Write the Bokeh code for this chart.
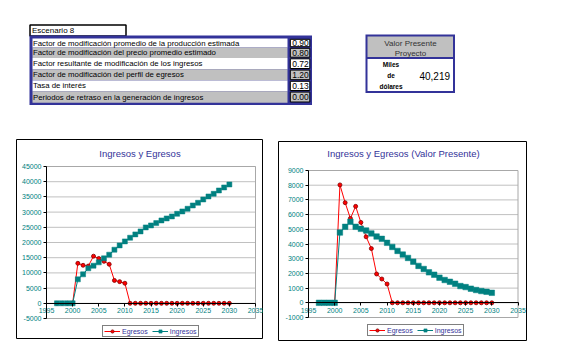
from bokeh.plotting import figure
from bokeh.models import Range1d, FixedTicker, Legend, LegendItem, Label, Spacer
from bokeh.layouts import row, column
from bokeh.embed import file_html
from bokeh.resources import INLINE
from bokeh.core.properties import value

# ---------------- data ----------------
years = [1997, 1998, 1999, 2000, 2001, 2002, 2003, 2004, 2005, 2006, 2007, 2008,
         2009, 2010, 2011, 2012, 2013, 2014, 2015, 2016, 2017, 2018, 2019, 2020,
         2021, 2022, 2023, 2024, 2025, 2026, 2027, 2028, 2029, 2030]

ingresos = [0, 0, 0, 0, 7880, 9530, 11500, 12370, 13470, 14780, 15990, 17630,
            19050, 20370, 21570, 22670, 23650, 24970, 25620, 26390, 27260, 27920,
            28580, 29450, 30220, 31100, 32190, 33070, 34160, 35150, 36020, 37120,
            38110, 39090]
egresos = [0, 0, 0, 0, 13150, 12500, 12250, 15500, 14750, 13800, 12850, 7520,
           7120, 6600, 0, 0, 0, 0, 0, 0, 0, 0, 0, 0, 0, 0, 0, 0, 0, 0, 0, 0, 0, 0]

ingresos_vp = [0, 0, 0, 0, 4780, 5170, 5510, 5170, 5030, 4920, 4720, 4510,
               4350, 4080, 3800, 3530, 3280, 3050, 2800, 2510, 2300, 2070, 1910,
               1710, 1550, 1430, 1300, 1140, 1070, 960, 870, 800, 750, 680]
egresos_vp = [0, 0, 0, 0, 8020, 6810, 5740, 6560, 5470, 4490, 3690, 1960,
              1620, 1280, 0, 0, 0, 0, 0, 0, 0, 0, 0, 0, 0, 0, 0, 0, 0, 0, 0, 0, 0, 0]

x_ticks = [1995, 2000, 2005, 2010, 2015, 2020, 2025, 2030, 2035]
x_tick_labels = ["1995", "2000", "2005", "2010", "2015", "2020", "2025", "2030", "2035"]
y_ticks_nom = [-5000, 0, 5000, 10000, 15000, 20000, 25000, 30000, 35000, 40000, 45000]
y_labels_nom = ["-5000", "0", "5000", "10000", "15000", "20000", "25000", "30000",
                "35000", "40000", "45000"]
y_ticks_vp = [-1000, 0, 1000, 2000, 3000, 4000, 5000, 6000, 7000, 8000, 9000]
y_labels_vp = ["-1000", "0", "1000", "2000", "3000", "4000", "5000", "6000", "7000",
               "8000", "9000"]

series_names = ["Egresos", "Ingresos"]
chart_titles = ["Ingresos y Egresos", "Ingresos y Egresos (Valor Presente)"]

scenario_label = "Escenario 8"
table_labels = [
    "Factor de modificación promedio de la producción estimada",
    "Factor de modificación del precio promedio estimado",
    "Factor resultante de modificación de los ingresos",
    "Factor de modificación del perfil de egresos",
    "Tasa de interés",
    "Periodos de retraso en la generación de ingresos",
]
table_values = ["0.90", "0.80", "0.72", "1.20", "0.13", "0.00"]
vp_header = ["Valor Presente", "Proyecto"]
vp_units = ["Miles", "de", "dólares"]
vp_value = ["40,219"]

# ---------------- styles ----------------
FONT = "Liberation Sans"
NAVY = "#333399"
TEAL = "#008080"
RED = "#ff0000"
GRAY = "#c0c0c0"

# ---------------- top (tables) ----------------
top = figure(width=546, height=139, x_range=Range1d(0, 546), y_range=Range1d(139, 0),
             output_backend="svg", toolbar_location=None, min_border=0, title=None,
             x_axis_location=None, y_axis_location=None, outline_line_color=None)
top.grid.visible = False

# Escenario box
top.quad(left=[29.5], right=[125.5], top=[24.5], bottom=[35.5],
         fill_color="white", line_color="black", line_width=1.5)
top.text(x=[31.5], y=[30], text=[scenario_label], text_font=value(FONT),
         text_font_size="8px", text_align="left", text_baseline="middle", text_color="black")

# parameter table
row_b = [38, 47, 57.5, 68.8, 80, 90.8, 102.3]
top.quad(left=[29], right=[311.5], top=[35], bottom=[104.5], fill_color=NAVY, line_color=None)
fills = ["white", GRAY, "white", GRAY, "white", GRAY]
top.quad(left=[32] * 6, right=[287] * 6, top=row_b[:-1], bottom=row_b[1:],
         fill_color=fills, line_color=None)
top.quad(left=[289.8] * 6, right=[309.3] * 6, top=[b + 0.8 for b in row_b[:-1]],
         bottom=[b - 0.8 for b in row_b[1:]], fill_color=fills, line_color="black", line_width=1)
mids = [(row_b[i] + row_b[i + 1]) / 2 for i in range(6)]
top.text(x=[32.5] * 6, y=mids, text=table_labels, text_font=value(FONT),
         text_font_size="7.8px", text_align="left", text_baseline="middle", text_color="black")
top.text(x=[308.3] * 6, y=mids, text=table_values, text_font=value(FONT),
         text_font_size="8.5px", text_align="right", text_baseline="middle", text_color="black")

# Valor presente box
top.quad(left=[365], right=[454.5], top=[34], bottom=[92.5], fill_color=NAVY, line_color=None)
top.quad(left=[367], right=[452.5], top=[36], bottom=[56.5], fill_color=GRAY, line_color=None)
top.quad(left=[367], right=[452.5], top=[58.5], bottom=[90.5], fill_color="white", line_color=None)
top.text(x=[410, 410], y=[42.5, 52.5], text=vp_header, text_font=value(FONT),
         text_font_size="8px", text_align="center", text_baseline="middle", text_color="#333333")
top.text(x=[390.5, 390.5, 390.5], y=[64, 75, 86], text=vp_units, text_font=value(FONT),
         text_font_size="6.5px", text_font_style="bold", text_align="center",
         text_baseline="middle", text_color="black")
top.text(x=[449.5], y=[75.7], text=vp_value, text_font=value(FONT),
         text_font_size="10px", text_align="right", text_baseline="middle", text_color="black")


# ---------------- charts ----------------
def make_chart(title, ing, egr, yticks, ylabels, W, H, area, title_c, legend_xy, sq_size):
    # area = (left, right, top, bottom) of the plot area in canvas pixels;
    # the Bokeh frame covers the whole chart box, its outline is the chart border.
    a_l, a_r, a_t, a_b = area
    x0, x1 = x_ticks[0], x_ticks[-1]
    y0, y1 = yticks[0], yticks[-1]
    xs = (x1 - x0) / (a_r - a_l)
    ys = (y1 - y0) / (a_b - a_t)
    xr = Range1d(x0 - a_l * xs, x1 + (W - a_r) * xs)
    yr = Range1d(y0 - (H - a_b) * ys, y1 + a_t * ys)

    p = figure(width=W, height=H, x_range=xr, y_range=yr, title=None,
               output_backend="svg", toolbar_location=None, min_border=0,
               min_border_left=0, min_border_right=0, min_border_top=0, min_border_bottom=0,
               background_fill_color="white", border_fill_color="white",
               outline_line_color="black", outline_line_width=1)
    p.grid.visible = False

    # gridlines across the plot area only
    p.segment(x0=[x0] * len(yticks), x1=[x1] * len(yticks), y0=yticks, y1=yticks,
              line_color=GRAY, line_width=1)
    # plot-area border
    p.quad(left=[x0], right=[x1], bottom=[y0], top=[y1], fill_color=None,
           line_color="#a8a8a8", line_width=1)

    ya = p.yaxis[0]
    ya.ticker = FixedTicker(ticks=yticks)
    ya.major_label_overrides = dict(zip(yticks, ylabels))
    ya.fixed_location = x0
    ya.bounds = (y0, y1)
    xa = p.xaxis[0]
    xa.ticker = FixedTicker(ticks=x_ticks)
    xa.major_label_overrides = dict(zip(x_ticks, x_tick_labels))
    xa.fixed_location = 0
    xa.bounds = (x0, x1)
    for ax in (xa, ya):
        ax.axis_line_color = "black"
        ax.major_tick_line_color = "black"
        ax.major_tick_out = 3
        ax.major_tick_in = 0
        ax.minor_tick_line_color = None
        ax.major_label_text_font = FONT
        ax.major_label_text_font_size = "7px"
        ax.major_label_text_color = TEAL
        ax.major_label_standoff = 2

    eg_l = p.line(years, egr, line_color=RED, line_width=1)
    eg_s = p.scatter(years, egr, marker="circle", size=4, fill_color=RED,
                     line_color="#800000", line_width=0.8)
    in_l = p.line(years, ing, line_color=TEAL, line_width=1)
    in_s = p.scatter(years, ing, marker="square", size=sq_size, fill_color=TEAL,
                     line_color=TEAL, line_width=0.5)

    legend = Legend(items=[LegendItem(label=series_names[0], renderers=[eg_l, eg_s]),
                           LegendItem(label=series_names[1], renderers=[in_l, in_s])],
                    location=legend_xy, orientation="horizontal",
                    border_line_color="black", border_line_width=1,
                    background_fill_color="white", background_fill_alpha=1,
                    label_text_font=FONT, label_text_font_size="7px",
                    label_text_color=NAVY, glyph_width=16, glyph_height=8,
                    label_height=8, label_width=10, label_standoff=2, spacing=4,
                    padding=1, margin=0)
    p.add_layout(legend, "center")

    tx = x0 + (title_c[0] - a_l) * xs
    ty = y1 + (a_t - title_c[1]) * ys
    p.add_layout(Label(x=tx, y=ty, text=title, text_align="center", text_baseline="middle",
                       text_font=FONT, text_font_size="9.5px", text_color=NAVY))
    return p


left = make_chart(chart_titles[0], ingresos, egresos, y_ticks_nom, y_labels_nom,
                  247, 200, (30, 239, 27, 179), (123.5, 14), (86, 2), 5)
right = make_chart(chart_titles[1], ingresos_vp, egresos_vp, y_ticks_vp, y_labels_vp,
                   249, 200, (30, 239.5, 29, 176), (125, 11.5), (89, 5), 5.5)

layout = column(top,
                row(Spacer(width=16, height=10), left, Spacer(width=15, height=10),
                    column(Spacer(width=10, height=2), right)))

open("out.html", "w").write(file_html(layout, INLINE))
